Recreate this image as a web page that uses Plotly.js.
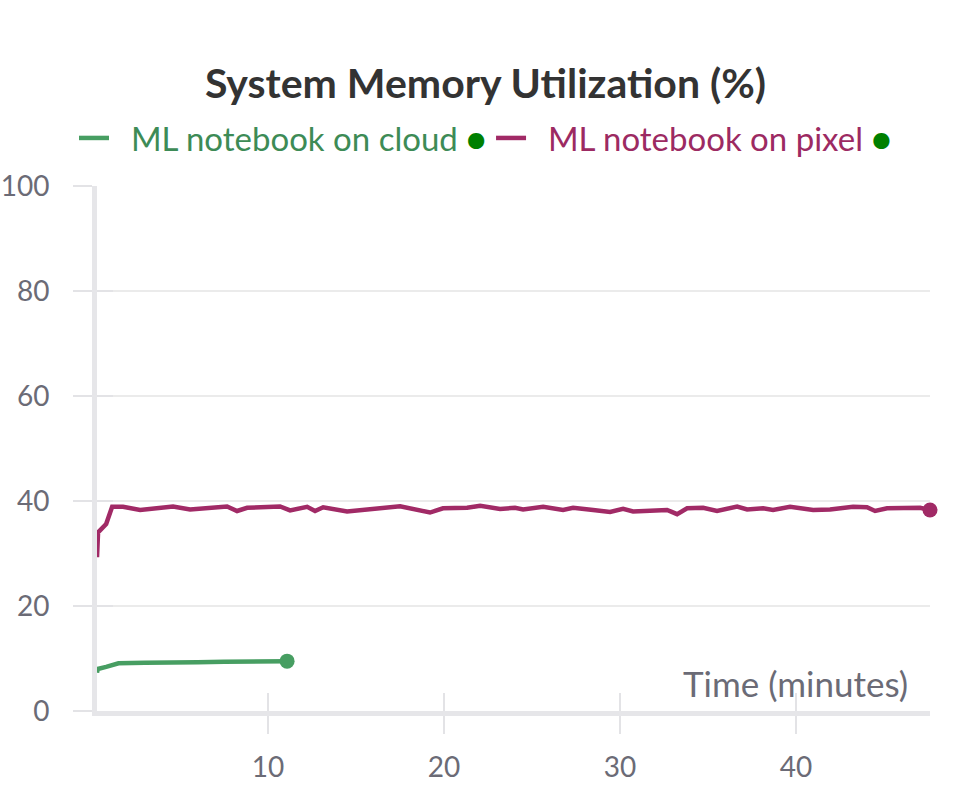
<!DOCTYPE html>
<html>
<head>
<meta charset="utf-8">
<script src="https://cdn.plot.ly/plotly-3.0.1.min.js"></script>
<style>html,body{margin:0;padding:0;background:#fff;}#chart{width:971px;height:785px;}</style>
</head>
<body>
<div id="chart"></div>
<script>
// Time in minutes
const cloudTime = [0.28, 0.32, 0.8, 1.5, 3.0, 4.5, 6.0, 7.5, 9.0, 10.0, 11.08];
const cloudMem  = [7.3, 8.0, 8.4, 9.1, 9.2, 9.35, 9.3, 9.4, 9.4, 9.45, 9.5];

const pixelTime = [0.28, 0.34, 0.8, 1.14, 1.76, 2.73, 4.60, 5.57, 7.67, 8.24, 8.81, 10.68, 11.25, 11.82,
  12.22, 12.67, 13.13, 14.49, 16.93, 17.5, 19.2, 19.94, 21.31, 22.05, 23.18, 24.03, 24.49, 25.63,
  26.76, 27.33, 28.47, 29.43, 30.17, 30.74, 32.67, 33.24, 33.81, 34.72, 35.51, 35.97, 36.65, 37.22,
  38.13, 38.69, 39.66, 40.97, 41.93, 43.24, 44.03, 44.49, 45.17, 47.05, 47.61];
const pixelMem  = [29.3, 34.0, 35.6, 38.9, 38.9, 38.3, 38.95, 38.4, 38.95, 38.1, 38.7, 38.95, 38.2, 38.7,
  38.9, 38.1, 38.8, 38.0, 38.7, 39.0, 37.8, 38.6, 38.7, 39.1, 38.5, 38.7, 38.4, 38.9,
  38.3, 38.7, 38.3, 37.9, 38.5, 38.0, 38.3, 37.5, 38.6, 38.7, 38.1, 38.5, 38.95, 38.4,
  38.6, 38.3, 38.9, 38.3, 38.4, 38.9, 38.8, 38.1, 38.6, 38.7, 38.3];

const seriesNames = ["ML notebook on cloud", "ML notebook on pixel"];
const xTicks = [10, 20, 30, 40];
const yTicks = [0, 20, 40, 60, 80, 100];

const green = "#479e62", greenText = "#3d8b56";
const pink = "#a12a66", pinkText = "#9c2a62";
const gray = "#6b6b76";
const FONT = "Lato, 'Source Sans Pro', sans-serif";
const NB = "\u00A0\u00A0";

const last = a => a[a.length - 1];

const traces = [
  {x: cloudTime, y: cloudMem, type: "scatter", mode: "lines",
   line: {color: green, width: 4.5},
   name: NB + "<span style='color:" + greenText + "'>" + seriesNames[0] + "</span> <span style='color:#008000'>●</span>"},
  {x: pixelTime, y: pixelMem, type: "scatter", mode: "lines",
   line: {color: pink, width: 4.5},
   name: NB + "<span style='color:" + pinkText + "'>" + seriesNames[1] + "</span> <span style='color:#008000'>●</span>"},
  {x: [last(cloudTime)], y: [last(cloudMem)], xaxis: "x2", yaxis: "y2", type: "scatter", mode: "markers",
   marker: {color: green, size: 15}, showlegend: false, hoverinfo: "skip"},
  {x: [last(pixelTime)], y: [last(pixelMem)], xaxis: "x2", yaxis: "y2", type: "scatter", mode: "markers",
   marker: {color: pink, size: 15}, showlegend: false, hoverinfo: "skip", cliponaxis: false}
];

const xRange = [0.28, 47.61];
const yRange = [0, 100];

const layout = {
  width: 971, height: 785,
  margin: {l: 97, r: 41, t: 186, b: 74, autoexpand: false},
  paper_bgcolor: "#fff", plot_bgcolor: "#fff",
  font: {family: FONT, color: gray, size: 28},
  title: {text: "<b>System Memory Utilization (%)</b>", font: {family: FONT, size: 41, color: "#333333"},
          x: 0.5, xref: "container", xanchor: "center", y: 1 - 84/785, yref: "container", yanchor: "middle"},
  showlegend: true,
  legend: {orientation: "h", x: 0.5, xref: "container", xanchor: "center",
           y: 1 - 138/785, yref: "container", yanchor: "middle",
           font: {family: FONT, size: 33}, itemwidth: 30, traceorder: "normal"},
  xaxis: {range: xRange, tickvals: xTicks, ticktext: xTicks.map(String),
          showgrid: false, zeroline: false, showline: true, linecolor: "#e6e6e9", linewidth: 5,
          ticks: "outside", ticklen: 18, tickwidth: 2, tickcolor: "#e3e3e6",
          ticklabelstandoff: 9, tickfont: {size: 28, color: gray}, fixedrange: true},
  xaxis2: {range: xRange, overlaying: "x", side: "bottom", anchor: "y2",
          tickvals: xTicks, showticklabels: false, showgrid: false, zeroline: false, showline: false,
          ticks: "inside", ticklen: 18, tickwidth: 2, tickcolor: "#e3e3e6", fixedrange: true},
  yaxis: {range: yRange, tickvals: yTicks, ticktext: yTicks.map(String),
          showgrid: true, gridcolor: "#ebebeb", gridwidth: 1.5, zeroline: false,
          showline: true, linecolor: "#e6e6e9", linewidth: 5,
          ticks: "outside", ticklen: 19, tickwidth: 2.5, tickcolor: "#e3e3e6",
          ticklabelstandoff: 18, tickfont: {size: 28, color: gray}, fixedrange: true},
  yaxis2: {range: yRange, overlaying: "y", side: "left", anchor: "x2",
          tickvals: yTicks, showticklabels: false, showgrid: false, zeroline: false, showline: false,
          ticks: "inside", ticklen: 16, tickwidth: 2.5, tickcolor: "#e3e3e6", fixedrange: true},
  annotations: [{text: "Time (minutes)", xref: "paper", yref: "paper", x: (910-97)/833, y: (711-683)/525,
                 xanchor: "right", yanchor: "middle", showarrow: false,
                 font: {family: FONT, size: 35, color: gray}}]
};

Plotly.newPlot("chart", traces, layout, {displayModeBar: false, staticPlot: true});
</script>
</body>
</html>
